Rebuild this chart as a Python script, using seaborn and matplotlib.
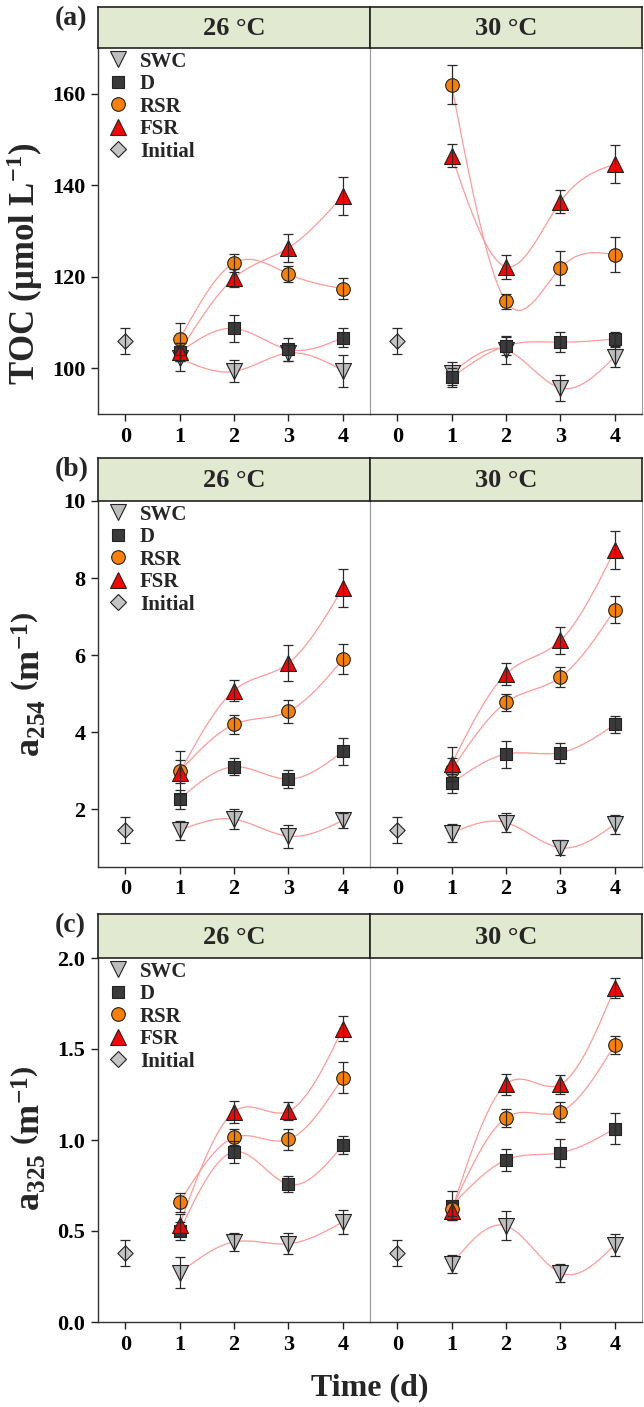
import numpy as np
import pandas as pd
import matplotlib
matplotlib.use("Agg")
import matplotlib.pyplot as plt
import seaborn as sns
from matplotlib.lines import Line2D

sns.set_theme(style="white")
plt.rcParams["font.family"] = ["Liberation Serif", "DejaVu Serif"]
plt.rcParams["font.weight"] = "bold"
plt.rcParams["mathtext.fontset"] = "custom"
plt.rcParams["mathtext.rm"] = "Liberation Serif:bold"
plt.rcParams["mathtext.bf"] = "Liberation Serif:bold"
plt.rcParams["mathtext.it"] = "Liberation Serif:italic:bold"

# ---------------- data ----------------
days = [1, 2, 3, 4]
temps = ["26 °C", "30 °C"]
groups = ["SWC", "D", "RSR", "FSR"]
x_ticks = [0, 1, 2, 3, 4]

# (a) TOC (umol/L)
toc_initial = [106.0, 2.9]
toc_26_mean = {"SWC": [102.2, 99.3, 103.3, 99.5], "D": [103.5, 108.7, 104.1, 106.7],
               "RSR": [106.3, 123.0, 120.6, 117.4], "FSR": [103.6, 119.7, 126.3, 137.7]}
toc_26_err = {"SWC": [2.7, 2.4, 1.8, 3.5], "D": [2.0, 2.9, 2.5, 2.0],
              "RSR": [3.5, 1.9, 1.8, 2.3], "FSR": [2.0, 2.0, 3.1, 4.2]}
toc_30_mean = {"SWC": [98.9, 104.0, 95.7, 102.5], "D": [98.0, 104.9, 105.7, 106.4],
               "RSR": [162.0, 114.6, 121.9, 124.8], "FSR": [146.5, 122.2, 136.4, 144.6]}
toc_30_err = {"SWC": [2.5, 3.0, 2.9, 2.2], "D": [2.0, 2.0, 2.2, 1.5],
              "RSR": [4.3, 1.7, 3.8, 3.8], "FSR": [2.6, 2.6, 2.5, 4.2]}

# (b) a254 (1/m)
a254_initial = [1.45, 0.34]
a254_26_mean = {"SWC": [1.45, 1.74, 1.30, 1.71], "D": [2.26, 3.10, 2.78, 3.50],
                "RSR": [2.98, 4.20, 4.54, 5.89], "FSR": [2.95, 5.08, 5.79, 7.74]}
a254_26_err = {"SWC": [0.25, 0.26, 0.30, 0.20], "D": [0.25, 0.22, 0.24, 0.35],
               "RSR": [0.30, 0.25, 0.29, 0.39], "FSR": [0.55, 0.27, 0.47, 0.49]}
a254_30_mean = {"SWC": [1.38, 1.65, 1.00, 1.61], "D": [2.67, 3.43, 3.47, 4.20],
                "RSR": [3.02, 4.77, 5.43, 7.18], "FSR": [3.17, 5.51, 6.38, 8.73]}
a254_30_err = {"SWC": [0.24, 0.25, 0.20, 0.25], "D": [0.24, 0.35, 0.26, 0.23],
               "RSR": [0.30, 0.23, 0.25, 0.35], "FSR": [0.45, 0.28, 0.35, 0.50]}

# (c) a325 (1/m)
a325_initial = [0.38, 0.07]
a325_26_mean = {"SWC": [0.27, 0.44, 0.43, 0.55], "D": [0.50, 0.935, 0.757, 0.972],
                "RSR": [0.658, 1.014, 1.003, 1.343], "FSR": [0.533, 1.155, 1.158, 1.612]}
a325_26_err = {"SWC": [0.085, 0.05, 0.058, 0.066], "D": [0.05, 0.06, 0.043, 0.05],
               "RSR": [0.052, 0.044, 0.058, 0.087], "FSR": [0.06, 0.062, 0.05, 0.07]}
a325_30_mean = {"SWC": [0.318, 0.528, 0.27, 0.424], "D": [0.638, 0.89, 0.93, 1.063],
                "RSR": [0.62, 1.122, 1.155, 1.524], "FSR": [0.61, 1.306, 1.306, 1.837]}
a325_30_err = {"SWC": [0.05, 0.08, 0.05, 0.06], "D": [0.08, 0.06, 0.076, 0.087],
               "RSR": [0.04, 0.048, 0.055, 0.05], "FSR": [0.05, 0.058, 0.052, 0.055]}

# ---------------- styles ----------------
marker_map = {"SWC": "v", "D": "s", "RSR": "o", "FSR": "^", "Initial": "D"}
face_map = {"SWC": "#bdbdbd", "D": "#3a3a3a", "RSR": "#ff8000", "FSR": "#ff0000", "Initial": "#c4c4c4"}
size_map = {"SWC": 11.5, "D": 8.6, "RSR": 9.8, "FSR": 11.5, "Initial": 7.8}
edge_col = "#222222"
line_col = "#ff9a9a"
strip_col = "#e1ead0"


def natural_spline(x, y, n=120):
    x = np.asarray(x, float)
    y = np.asarray(y, float)
    k = len(x)
    h = np.diff(x)
    A = np.zeros((k, k))
    r = np.zeros(k)
    A[0, 0] = A[-1, -1] = 1.0
    for i in range(1, k - 1):
        A[i, i - 1] = h[i - 1]
        A[i, i] = 2 * (h[i - 1] + h[i])
        A[i, i + 1] = h[i]
        r[i] = 3 * ((y[i + 1] - y[i]) / h[i] - (y[i] - y[i - 1]) / h[i - 1])
    c = np.linalg.solve(A, r)
    b = np.diff(y) / h - h * (2 * c[:-1] + c[1:]) / 3
    d = np.diff(c) / (3 * h)
    xs = np.linspace(x[0], x[-1], n)
    idx = np.clip(np.searchsorted(x, xs) - 1, 0, k - 2)
    dx = xs - x[idx]
    ys = y[idx] + b[idx] * dx + c[idx] * dx ** 2 + d[idx] * dx ** 3
    return xs, ys


W, H = 644, 1407
fig = plt.figure(figsize=(W / 100, H / 100), dpi=100)


def rect(x0, y0, x1, y1):
    return [x0 / W, 1 - y1 / H, (x1 - x0) / W, (y1 - y0) / H]


panels = [
    dict(tag="(a)", ax_y=(48, 414), strip_y=(7, 48), ylim=(90, 170), yticks=[100, 120, 140, 160],
         yfmt="{:.0f}", init=toc_initial, data=[(toc_26_mean, toc_26_err), (toc_30_mean, toc_30_err)],
         ylabel="TOC (μmol L$^{-1}$)", ylab_fs=25, ylab_xy=(25, 264)),
    dict(tag="(b)", ax_y=(501, 867), strip_y=(458, 501), ylim=(0.5, 10), yticks=[2, 4, 6, 8, 10],
         yfmt="{:.0f}", init=a254_initial, data=[(a254_26_mean, a254_26_err), (a254_30_mean, a254_30_err)],
         ylabel=r"$\mathregular{a_{254}}\ \left(\mathregular{m^{-1}}\right)$", ylab_fs=26, ylab_xy=(30, 684)),
    dict(tag="(c)", ax_y=(958, 1322), strip_y=(914, 958), ylim=(0, 2.0), yticks=[0.0, 0.5, 1.0, 1.5, 2.0],
         yfmt="{:.1f}", init=a325_initial, data=[(a325_26_mean, a325_26_err), (a325_30_mean, a325_30_err)],
         ylabel=r"$\mathregular{a_{325}}\ \left(\mathregular{m^{-1}}\right)$", ylab_fs=26, ylab_xy=(30, 1138)),
]

xcols = [(98, 370), (370, 642)]

for p in panels:
    y0, y1 = p["ax_y"]
    for ti, (x0, x1) in enumerate(xcols):
        ax = fig.add_axes(rect(x0, y0, x1, y1))
        mean_d, err_d = p["data"][ti]
        # smooth connecting curves
        for g in groups:
            xs, ys = natural_spline(days, mean_d[g])
            sns.lineplot(x=xs, y=ys, ax=ax, color=line_col, lw=0.9, sort=False,
                         estimator=None, zorder=2, legend=False)
        # markers
        for g in groups:
            df = pd.DataFrame({"day": days, "val": mean_d[g]})
            sns.scatterplot(data=df, x="day", y="val", ax=ax, marker=marker_map[g],
                            s=size_map[g] ** 2, color=face_map[g], edgecolor=edge_col,
                            linewidth=0.8, zorder=3, legend=False)
            ax.errorbar(days, mean_d[g], yerr=err_d[g], fmt="none", ecolor="#2a2a2a",
                        elinewidth=0.9, capsize=3.5, capthick=0.9, zorder=4)
        dfi = pd.DataFrame({"day": [0], "val": [p["init"][0]]})
        sns.scatterplot(data=dfi, x="day", y="val", ax=ax, marker=marker_map["Initial"],
                        s=size_map["Initial"] ** 2, color=face_map["Initial"], edgecolor=edge_col,
                        linewidth=0.8, zorder=3, legend=False)
        ax.errorbar([0], [p["init"][0]], yerr=[p["init"][1]], fmt="none", ecolor="#2a2a2a",
                    elinewidth=0.9, capsize=3.5, capthick=0.9, zorder=4)

        ax.set_xlim(-0.5, 4.5)
        ax.set_ylim(*p["ylim"])
        ax.set_xticks(x_ticks)
        ax.set_xticklabels([str(t) for t in x_ticks], fontsize=16, fontweight="bold")
        ax.set_xlabel("")
        ax.set_ylabel("")
        ax.tick_params(axis="x", direction="out", length=5, width=1, pad=4, colors="#222222",
                       labelcolor="black", bottom=True)
        ax.spines["top"].set_visible(False)
        ax.spines["bottom"].set_color("#333333")
        ax.spines["bottom"].set_linewidth(1.0)
        if ti == 0:
            ax.set_yticks(p["yticks"])
            ax.set_yticklabels([p["yfmt"].format(v) for v in p["yticks"]], fontsize=16, fontweight="bold")
            ax.tick_params(axis="y", direction="out", length=5, width=1, pad=4, colors="#222222",
                           labelcolor="black", left=True)
            ax.spines["left"].set_color("#333333")
            ax.spines["left"].set_linewidth(1.0)
            ax.spines["right"].set_color("#9a9a9a")
            ax.spines["right"].set_linewidth(0.8)
            handles = [Line2D([], [], ls="none", marker=marker_map[g], markersize=size_map[g],
                              markerfacecolor=face_map[g], markeredgecolor=edge_col,
                              markeredgewidth=0.8, label=g) for g in groups + ["Initial"]]
            ax.legend(handles=handles, loc="upper left", bbox_to_anchor=(0.035, 0.99),
                      frameon=False, borderpad=0, borderaxespad=0, handlelength=1.0,
                      handletextpad=0.55, labelspacing=0.12,
                      prop=dict(family="Liberation Serif", weight="bold", size=15))
        else:
            ax.set_yticks([])
            ax.spines["left"].set_color("#9a9a9a")
            ax.spines["left"].set_linewidth(0.8)
            ax.spines["right"].set_color("#9a9a9a")
            ax.spines["right"].set_linewidth(0.8)

        # strip
        sy0, sy1 = p["strip_y"]
        sax = fig.add_axes(rect(x0, sy0, x1, sy1))
        sax.set_facecolor(strip_col)
        sax.set_xticks([])
        sax.set_yticks([])
        for s in sax.spines.values():
            s.set_color("#222222")
            s.set_linewidth(1.2)
        sax.text(0.5, 0.47, temps[ti], ha="center", va="center", fontsize=19,
                 fontweight="bold", transform=sax.transAxes)

    fig.text(55 / W, 1 - (p["strip_y"][0] - 1) / H, p["tag"], ha="left", va="top",
             fontsize=20, fontweight="bold")
    lx, ly = p["ylab_xy"]
    fig.text(lx / W, 1 - ly / H, p["ylabel"], rotation=90, ha="center", va="center",
             fontsize=p["ylab_fs"], fontweight="bold")

fig.text(370 / W, 1 - 1388 / H, "Time (d)", ha="center", va="center", fontsize=23, fontweight="bold")

fig.savefig("out.png", dpi=100)
